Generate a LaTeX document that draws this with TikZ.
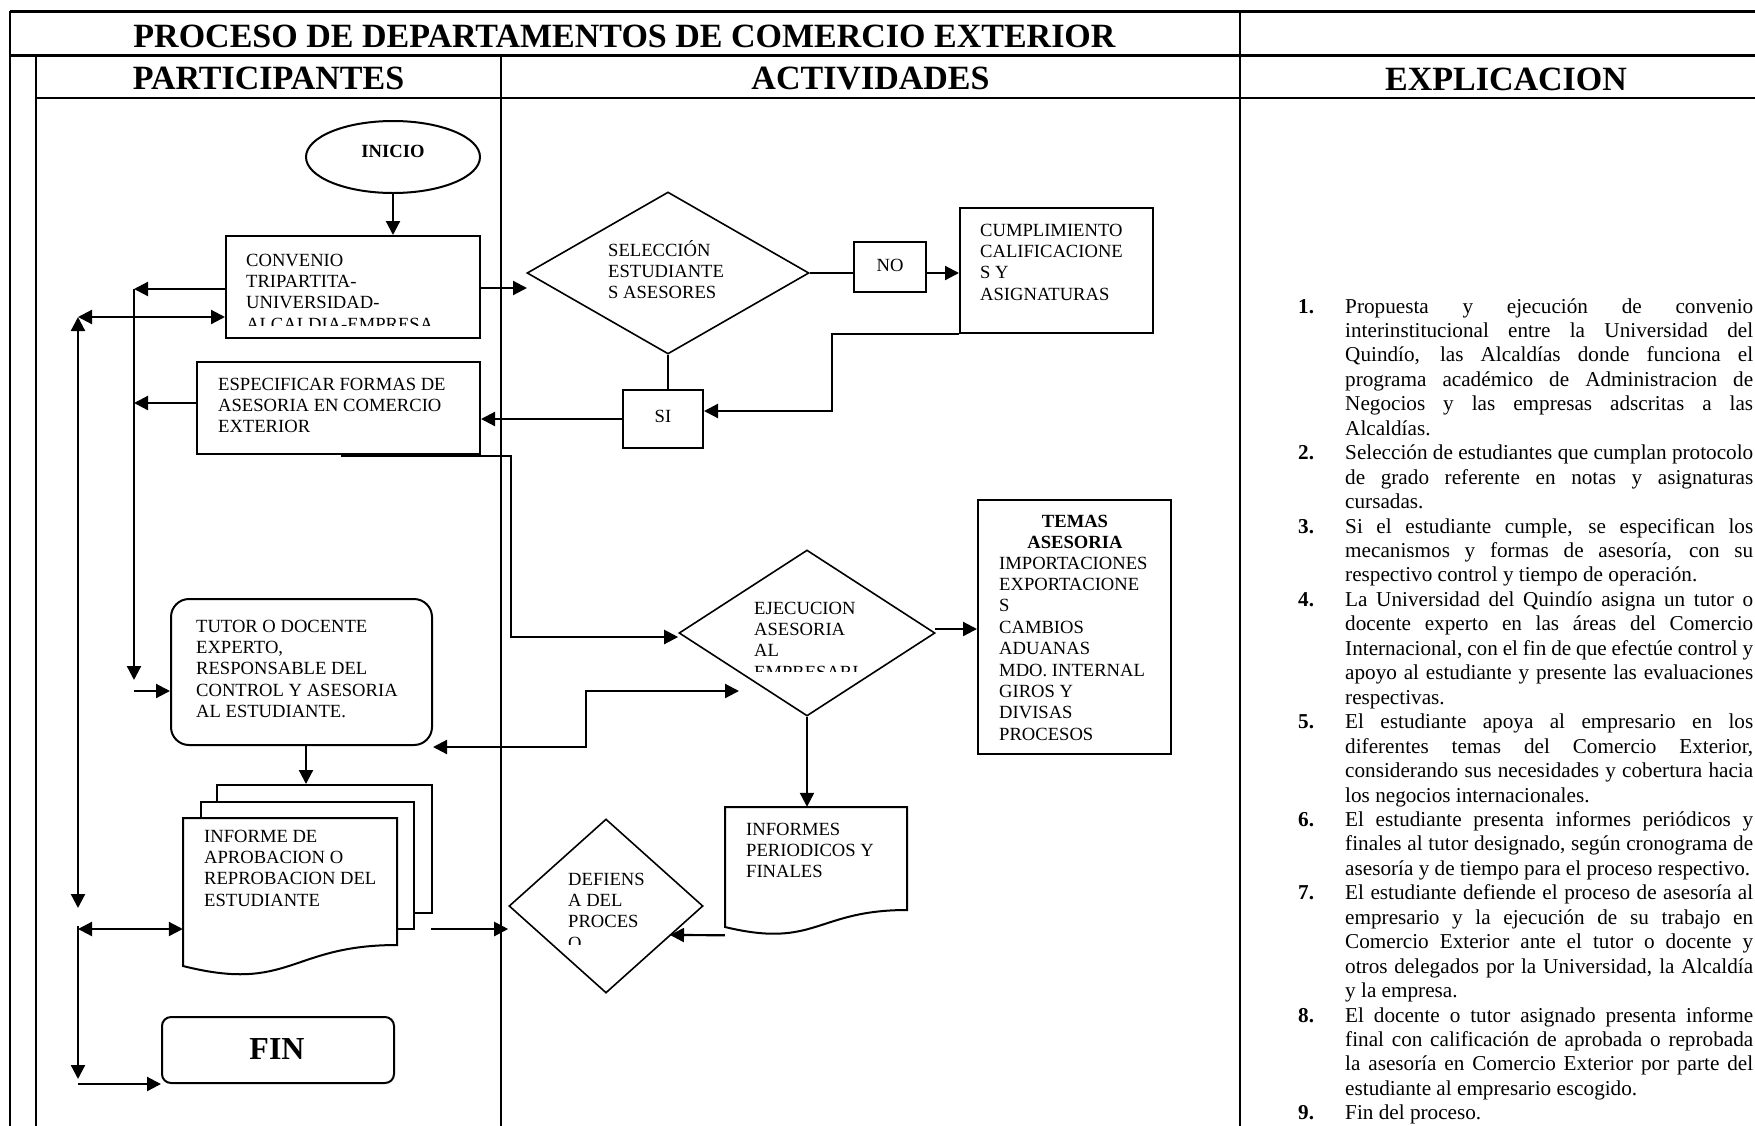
\documentclass[tikz,border=0pt]{standalone}
\usepackage{fontspec}
\setmainfont{Liberation Serif}
\usetikzlibrary{shapes.geometric,arrows.meta}
\newcommand{\boxfont}{\fontsize{18.6}{21.4}\selectfont}
\newcommand{\expfont}{\fontsize{21.2}{24.45}\selectfont}
\newcommand{\bl}[1]{\parbox[t]{260pt}{\boxfont\raggedright #1}}
\newcommand{\jl}[1]{\makebox[408pt][s]{#1}}
\newcommand{\expitem}[2]{\makebox[47pt][l]{\bfseries #1}\parbox[t]{408pt}{\expfont #2}}
\tikzset{
  x=1pt, y=-1pt,
  tblthick/.style={line width=3pt},
  tbl/.style={line width=1.8pt},
  tblthin/.style={line width=1.5pt},
  arr/.style={line width=2.2pt, -{Triangle[length=14pt,width=14pt]}},
  darr/.style={line width=2.2pt, {Triangle[length=14pt,width=14pt]}-{Triangle[length=14pt,width=14pt]}},
  plainline/.style={line width=1.5pt},
  boxs/.style={draw, line width=2pt, rectangle, inner sep=0pt, fill=white},
  dia/.style={draw, line width=1.6pt, diamond, inner sep=0pt, fill=white},
  ghost/.style={draw=none, rectangle, inner sep=0pt},
  txt/.style={inner sep=0pt, anchor=base west},
  hdr/.style={inner sep=0pt, anchor=base, font=\fontsize{34}{40}\selectfont\bfseries},
  expnode/.style={inner sep=0pt, anchor=base west, font=\expfont},
}
\begin{document}
\begin{tikzpicture}
\useasboundingbox (0,0) rectangle (1755,1125);
\clip (0,0) rectangle (1755,1125);
\fill[white] (0,0) rectangle (1755,1125);

% ---- table frame ----
\draw[tblthick] (10,11) -- (1770,11);
\draw[tblthick] (10,55) -- (1770,55);
\draw[tbl] (10,11) -- (10,1130);
\draw[tbl] (1240,11) -- (1240,1130);
\draw[tblthin] (36,55) -- (36,1130);
\draw[tblthin] (501,55) -- (501,1130);
\draw[tbl] (36,98) -- (1770,98);

\node[hdr] (title) at (624.5,47) {PROCESO DE DEPARTAMENTOS DE COMERCIO EXTERIOR};
\node[hdr] (hpart) at (268.5,89) {PARTICIPANTES};
\node[hdr] (hact) at (870.5,89) {ACTIVIDADES};
\node[hdr] (hexp) at (1506,90) {EXPLICACION};

% ---- shapes ----
\node[draw, ellipse, line width=2pt, minimum width=174pt, minimum height=72pt, inner sep=0pt] (inicio) at (393,157) {};
\node[inner sep=0pt, anchor=base, font=\boxfont\bfseries] (tinicio) at (393,157) {INICIO};

\node[boxs, minimum width=254pt, minimum height=102pt] (convenio) at (353,287) {};
\begin{scope}
\clip (226,236) rectangle (480,325);
\node[txt] (tconvenio) at (246,266) {\bl{CONVENIO\\TRIPARTITA-\\UNIVERSIDAD-\\ALCALDIA-EMPRESA}};
\end{scope}

\node[boxs, minimum width=283pt, minimum height=92pt] (especificar) at (338.5,408) {};
\node[txt] (tespecificar) at (218,390) {\bl{ESPECIFICAR FORMAS DE\\ASESORIA EN COMERCIO\\EXTERIOR}};

\node[dia, minimum width=282pt, minimum height=162pt] (seleccion) at (668,273) {};
\node[txt] (tseleccion) at (608,256) {\bl{SELECCIÓN\\ESTUDIANTE\\S ASESORES}};

\node[boxs, minimum width=72pt, minimum height=50pt] (nobox) at (890,267) {};
\node[inner sep=0pt, anchor=base, font=\boxfont] (tno) at (890,271) {NO};

\node[boxs, minimum width=193pt, minimum height=125pt] (cumpl) at (1056.5,270.5) {};
\node[txt] (tcumpl) at (980,236) {\bl{CUMPLIMIENTO\\CALIFICACIONE\\S Y\\ASIGNATURAS}};

\node[boxs, minimum width=80pt, minimum height=58pt] (sibox) at (663,419) {};
\node[inner sep=0pt, anchor=base, font=\boxfont] (tsi) at (663,422) {SI};

\node[dia, minimum width=256pt, minimum height=166pt] (ejec) at (807,633) {};
\begin{scope}
\clip (679,550) rectangle (935,671);
\node[txt] (tejec) at (754,614) {\bl{EJECUCION\\ASESORIA\\AL\\EMPRESARI}};
\end{scope}

\node[boxs, minimum width=193pt, minimum height=254pt] (temas) at (1074.5,627) {};
\node[inner sep=0pt, anchor=base] (ttemas) at (1075,527) {\parbox[t]{190pt}{\boxfont\centering\bfseries TEMAS\\ASESORIA}};
\node[txt] (ttemaslist) at (999,569) {\bl{IMPORTACIONES\\EXPORTACIONE\\S\\CAMBIOS\\ADUANAS\\MDO. INTERNAL\\GIROS Y\\DIVISAS\\PROCESOS}};

\node[boxs, rounded corners=18pt, minimum width=261pt, minimum height=146pt] (tutor) at (301.5,672) {};
\node[txt] (ttutor) at (196,632) {\bl{TUTOR O DOCENTE\\EXPERTO,\\RESPONSABLE DEL\\CONTROL Y ASESORIA\\AL ESTUDIANTE.}};

% multi-document INFORME
\draw[line width=2pt, fill=white] (217,802) -- (217,785) -- (432,785) -- (432,913) -- (414,913);
\draw[line width=2pt, fill=white] (201,818) -- (201,802) -- (414,802) -- (414,929) -- (397,929);
\node[ghost, minimum width=214pt, minimum height=158pt] (informe) at (290,897) {};
\draw[line width=2pt, fill=white] (183,818) -- (397,818) -- (397,945)
   .. controls (290,945) and (290,993) .. (183,966) -- cycle;
\node[txt] (tinforme) at (204,842) {\bl{INFORME DE\\APROBACION O\\REPROBACION DEL\\ESTUDIANTE}};

% document INFORMES
\node[ghost, minimum width=182pt, minimum height=128pt] (informes) at (816,871) {};
\draw[line width=2pt, fill=white] (725,807) -- (907,807) -- (907,910)
   .. controls (816,910) and (816,949) .. (725,927) -- cycle;
\node[txt] (tinformes) at (746,835) {\bl{INFORMES\\PERIODICOS Y\\FINALES}};

\node[dia, minimum width=194pt, minimum height=174pt] (defiensa) at (606,906) {};
\begin{scope}
\clip (509,819) rectangle (703,944);
\node[txt] (tdefiensa) at (568,885) {\bl{DEFIENS\\A DEL\\PROCES\\O}};
\end{scope}

\node[boxs, rounded corners=9pt, minimum width=232pt, minimum height=66pt] (fin) at (278,1050) {};
\node[inner sep=0pt, anchor=base, font=\fontsize{32}{36}\selectfont\bfseries] (tfin) at (277,1059) {FIN};

% ---- connectors ----
\coordinate (c1) at (134,289);
\coordinate (c2) at (134,680);
\coordinate (c3) at (134,691);
\coordinate (c4) at (78,317);
\coordinate (c5) at (78,908);
\coordinate (c6) at (78,929);
\coordinate (c7) at (78,926);
\coordinate (c8) at (78,1079);
\coordinate (c9) at (78,1084);
\coordinate (c10) at (134,403);
\coordinate (c11) at (527,288);
\coordinate (c12) at (832,411);
\coordinate (c13) at (341,456);
\coordinate (c14) at (511,637);
\coordinate (c15) at (586,691);
\coordinate (c16) at (739,691);
\coordinate (c17) at (433,747);
\coordinate (c18) at (935,629);
\coordinate (c19) at (670,935);
\coordinate (c20) at (431,929);
\coordinate (c21) at (306,745);
\coordinate (c22) at (306,784);

\draw[arr] (inicio.south) -- (inicio.south |- convenio.north);
\draw[arr] (convenio.west |- c1) -- (c1);
\draw[arr] (c1) -- (c2);
\draw[arr] (c3) -- (tutor.west |- c3);
\draw[darr] (c4) -- (convenio.west |- c4);
\draw[darr] (c5) -- (c4);
\draw[darr] (c6) -- (informe.west |- c6);
\draw[arr] (c7) -- (c8);
\draw[arr] (c9) -- (fin.west |- c9);
\draw[arr] (especificar.west |- c10) -- (c10);
\draw[arr] (convenio.east |- c11) -- (c11);
\draw[plainline] (seleccion.east) -- (nobox.west |- seleccion.east);
\draw[arr] (nobox.east |- seleccion.east) -- (cumpl.west |- seleccion.east);
\draw[arr] (cumpl.south west) -| (c12) -- (sibox.east |- c12);
\draw[plainline] (seleccion.south) -- (seleccion.south |- sibox.north);
\draw[arr] (sibox.west) -- (especificar.east |- sibox.west);
\draw[arr] (c13) -| (c14) -- (ejec.west |- c14);
\draw[darr] (c17) -| (c15) -- (c16);
\draw[arr] (c18) -- (temas.west |- c18);
\draw[arr] (ejec.south) -- (ejec.south |- informes.north);
\draw[arr] (informes.south west) -- (c19);
\draw[arr] (c20) -- (defiensa.west |- c20);
\draw[arr] (c21) -- (c22);

% ---- explanation ----
\node[expnode] (e1) at (1298,313) {\expitem{1.}{\jl{Propuesta y ejecución de convenio}\\\jl{interinstitucional entre la Universidad del}\\\jl{Quindío, las Alcaldías donde funciona el}\\\jl{programa académico de Administracion de}\\\jl{Negocios y las empresas adscritas a las}\\Alcaldías.}};
\node[expnode] (e2) at (1298,459.7) {\expitem{2.}{\jl{Selección de estudiantes que cumplan protocolo}\\\jl{de grado referente en notas y asignaturas}\\cursadas.}};
\node[expnode] (e3) at (1298,533.05) {\expitem{3.}{\jl{Si el estudiante cumple, se especifican los}\\\jl{mecanismos y formas de asesoría, con su}\\respectivo control y tiempo de operación.}};
\node[expnode] (e4) at (1298,606.4) {\expitem{4.}{\jl{La Universidad del Quindío asigna un tutor o}\\\jl{docente experto en las áreas del Comercio}\\\jl{Internacional, con el fin de que efectúe control y}\\\jl{apoyo al estudiante y presente las evaluaciones}\\respectivas.}};
\node[expnode] (e5) at (1298,728.65) {\expitem{5.}{\jl{El estudiante apoya al empresario en los}\\\jl{diferentes temas del Comercio Exterior,}\\\jl{considerando sus necesidades y cobertura hacia}\\los negocios internacionales.}};
\node[expnode] (e6) at (1298,826.45) {\expitem{6.}{\jl{El estudiante presenta informes periódicos y}\\\jl{finales al tutor designado, según cronograma de}\\asesoría y de tiempo para el proceso respectivo.}};
\node[expnode] (e7) at (1298,899.8) {\expitem{7.}{\jl{El estudiante defiende el proceso de asesoría al}\\\jl{empresario y la ejecución de su trabajo en}\\\jl{Comercio Exterior ante el tutor o docente y}\\\jl{otros delegados por la Universidad, la Alcaldía}\\y la empresa.}};
\node[expnode] (e8) at (1298,1022.05) {\expitem{8.}{\jl{El docente o tutor asignado presenta informe}\\\jl{final con calificación de aprobada o reprobada}\\\jl{la asesoría en Comercio Exterior por parte del}\\estudiante al empresario escogido.}};
\node[expnode] (e9) at (1298,1119.85) {\expitem{9.}{Fin del proceso.}};
\end{tikzpicture}
\end{document}
